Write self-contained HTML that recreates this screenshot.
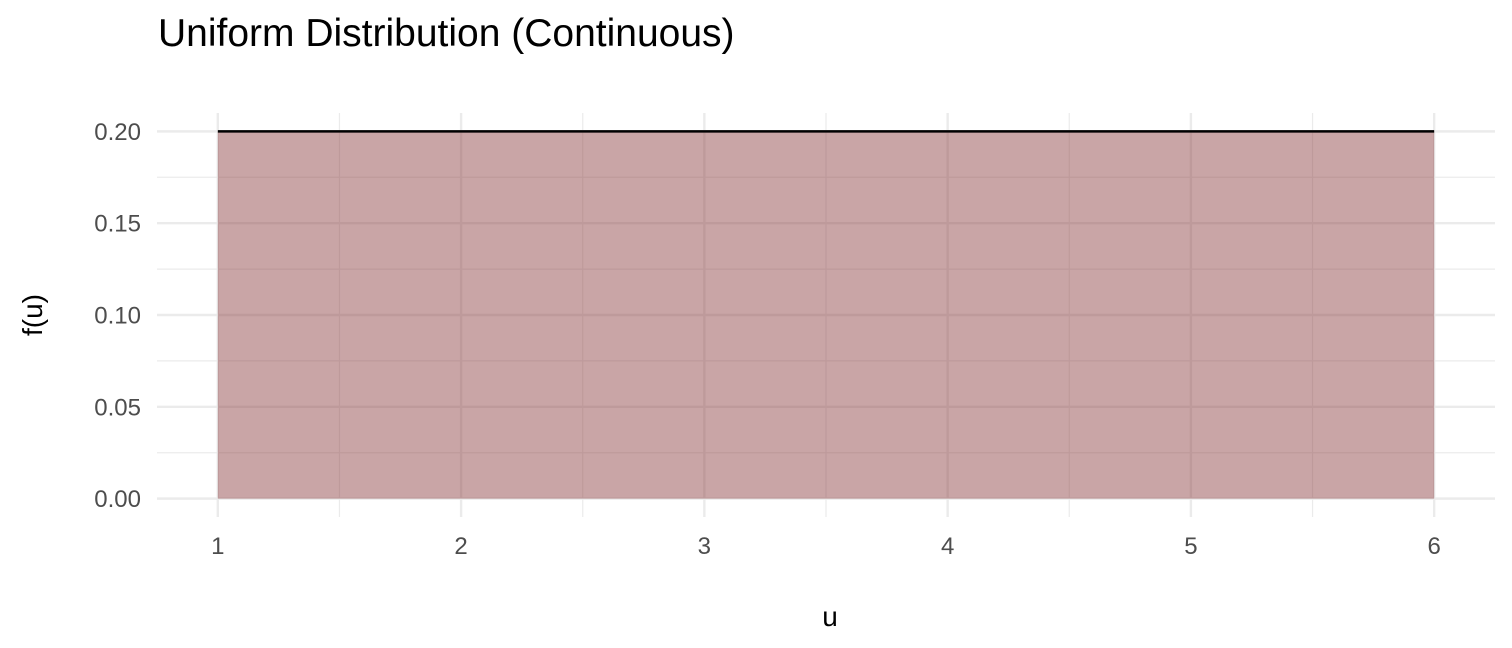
<!DOCTYPE html>
<html><head><meta charset="utf-8"><style>
html,body{margin:0;padding:0;background:#fff;}
svg{display:block;font-family:"Liberation Sans",Arial,sans-serif;}
</style></head><body>
<svg id="chart" width="1512" height="648" viewBox="0 0 1512 648">
<text x="158" y="46" font-size="39" fill="#000">Uniform Distribution (Continuous)</text>
<g id="grid"></g>
<g id="marks"></g>
<g id="labels"></g>
<text x="830" y="626" font-size="28" text-anchor="middle" fill="#000">u</text>
<text transform="translate(42,315) rotate(-90)" font-size="28" text-anchor="middle" fill="#000">f(u)</text>
</svg>
<script>
const xTicks = [1, 2, 3, 4, 5, 6];
const yTicks = [0, 0.05, 0.10, 0.15, 0.20];
const yTickLabels = ["0.00", "0.05", "0.10", "0.15", "0.20"];
const densityX = [1, 6];
const densityY = [0.2, 0.2];

const NS = "http://www.w3.org/2000/svg";
const pl = 157, pr = 1495, pt = 113, pb = 517;
const xMin = 0.75, xMax = 6.25, yMin = -0.01, yMax = 0.21;
function sx(v){ return pl + (v - xMin) / (xMax - xMin) * (pr - pl); }
function sy(v){ return pb - (v - yMin) / (yMax - yMin) * (pb - pt); }
function mk(tag, attrs, parent){ const e = document.createElementNS(NS, tag); for (const k in attrs) e.setAttribute(k, attrs[k]); parent.appendChild(e); return e; }
const grid = document.getElementById('grid'), marks = document.getElementById('marks'), labels = document.getElementById('labels');

for (let i = 0; i < xTicks.length - 1; i++) {
  const m = (xTicks[i] + xTicks[i+1]) / 2;
  const l = mk('line', {x1: sx(m), x2: sx(m), y1: pt, y2: pb, stroke: '#ebebeb', 'stroke-width': 1.2}, grid);
  
  
}
for (let i = 0; i < yTicks.length - 1; i++) {
  const m = (yTicks[i] + yTicks[i+1]) / 2;
  const l = mk('line', {x1: pl, x2: pr, y1: sy(m), y2: sy(m), stroke: '#ebebeb', 'stroke-width': 1.2}, grid);
  
  
}
xTicks.forEach(v => {
  const l = mk('line', {x1: sx(v), x2: sx(v), y1: pt, y2: pb, stroke: '#ebebeb', 'stroke-width': 2.4}, grid);
  
  
  const t = mk('text', {x: sx(v), y: 554, 'font-size': 24, 'text-anchor': 'middle', fill: '#4d4d4d'}, labels);
  t.textContent = v;
  
  
});
yTicks.forEach((v, i) => {
  const l = mk('line', {x1: pl, x2: pr, y1: sy(v), y2: sy(v), stroke: '#ebebeb', 'stroke-width': 2.4}, grid);
  
  
  const t = mk('text', {x: 141, y: sy(v) + 8.5, 'font-size': 24, 'text-anchor': 'end', fill: '#4d4d4d'}, labels);
  t.textContent = yTickLabels[i];
  
  
});

let d = 'M' + sx(densityX[0]) + ',' + sy(0);
densityX.forEach((x, i) => { d += ' L' + sx(x) + ',' + sy(densityY[i]); });
d += ' L' + sx(densityX[densityX.length-1]) + ',' + sy(0) + ' Z';
const area = mk('path', {d: d, fill: 'rgb(135,55,57)', 'fill-opacity': 0.45}, marks);


let ld = '';
densityX.forEach((x, i) => { ld += (i ? ' L' : 'M') + sx(x) + ',' + sy(densityY[i]); });
const line = mk('path', {d: ld, fill: 'none', stroke: '#000', 'stroke-width': 2.6}, marks);


</script>
</body></html>
